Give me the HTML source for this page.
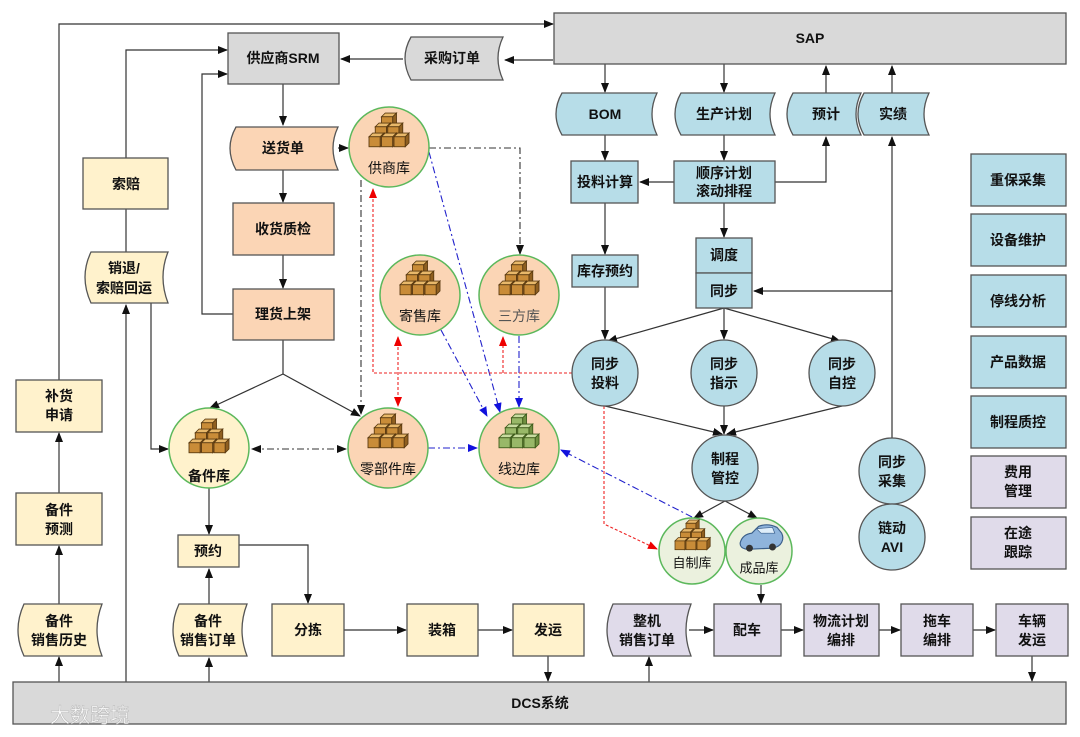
<!DOCTYPE html>
<html><head><meta charset="utf-8"><style>
html,body{margin:0;padding:0;background:#fff}
svg{display:block}
text{font-family:"Liberation Sans","Noto Sans CJK SC",sans-serif;font-size:14px;font-weight:bold;fill:#111;text-anchor:middle;dominant-baseline:central}
.n{font-weight:normal}
</style></head><body>
<svg width="1080" height="737" viewBox="0 0 1080 737" xmlns="http://www.w3.org/2000/svg">
<defs>
<marker id="a" markerUnits="userSpaceOnUse" markerWidth="10" markerHeight="10" refX="9" refY="5" orient="auto"><path d="M0,1 L10,5 L0,9 Z" fill="#111"/></marker>
<marker id="r" markerUnits="userSpaceOnUse" markerWidth="10" markerHeight="10" refX="9" refY="5" orient="auto"><path d="M0,1 L10,5 L0,9 Z" fill="#e00"/></marker>
<marker id="rs" markerUnits="userSpaceOnUse" markerWidth="10" markerHeight="10" refX="1" refY="5" orient="auto"><path d="M10,1 L0,5 L10,9 Z" fill="#e00"/></marker>
<marker id="b" markerUnits="userSpaceOnUse" markerWidth="10" markerHeight="10" refX="9" refY="5" orient="auto"><path d="M0,1 L10,5 L0,9 Z" fill="#11d"/></marker>
<marker id="as" markerUnits="userSpaceOnUse" markerWidth="10" markerHeight="10" refX="1" refY="5" orient="auto"><path d="M10,1 L0,5 L10,9 Z" fill="#111"/></marker>
<g id="cube"><path d="M0,3 L3,0 L12,0 L9,3 Z" fill="#e8b86a" stroke="#5a3a10" stroke-width="0.7"/><rect x="0" y="3" width="9" height="8" fill="#c98c38" stroke="#5a3a10" stroke-width="0.7"/><path d="M9,3 L12,0 L12,8 L9,11 Z" fill="#8f5f20" stroke="#5a3a10" stroke-width="0.7"/></g>
<g id="pyr"><use href="#cube" x="10" y="0"/><use href="#cube" x="5" y="8"/><use href="#cube" x="15" y="8"/><use href="#cube" x="0" y="16"/><use href="#cube" x="10" y="16"/><use href="#cube" x="20" y="16"/></g>
<g id="gcube"><path d="M0,3 L3,0 L12,0 L9,3 Z" fill="#c8dca0" stroke="#3d5a1a" stroke-width="0.7"/><rect x="0" y="3" width="9" height="8" fill="#98b868" stroke="#3d5a1a" stroke-width="0.7"/><path d="M9,3 L12,0 L12,8 L9,11 Z" fill="#6f8f40" stroke="#3d5a1a" stroke-width="0.7"/></g>
<g id="gpyr"><use href="#gcube" x="10" y="0"/><use href="#gcube" x="5" y="8"/><use href="#gcube" x="15" y="8"/><use href="#gcube" x="0" y="16"/><use href="#gcube" x="10" y="16"/><use href="#gcube" x="20" y="16"/></g>
</defs>

<g stroke="#333" stroke-width="1.2" fill="none">
<polyline points="59,380 59,24 553,24" marker-end="url(#a)"/>
<polyline points="553,60 505,60" marker-end="url(#a)"/>
<polyline points="403,59 341,59" marker-end="url(#a)"/>
<polyline points="126,158 126,50 227,50" marker-end="url(#a)"/>
<polyline points="233,314 202,314 202,74 227,74" marker-end="url(#a)"/>
<line x1="283" y1="84" x2="283" y2="125" marker-end="url(#a)"/>
<line x1="338" y1="148" x2="348" y2="148" marker-end="url(#a)"/>
<line x1="283" y1="170" x2="283" y2="202" marker-end="url(#a)"/>
<line x1="283" y1="255" x2="283" y2="288" marker-end="url(#a)"/>
<polyline points="283,340 283,374"/>
<line x1="283" y1="374" x2="210" y2="408" marker-end="url(#a)"/>
<line x1="283" y1="374" x2="360" y2="416" marker-end="url(#a)"/>
<line x1="126" y1="209" x2="126" y2="252"/>
<line x1="126" y1="682" x2="126" y2="305" marker-end="url(#a)"/>
<polyline points="151,303 151,449 168,449" marker-end="url(#a)"/>
<line x1="59" y1="682" x2="59" y2="657" marker-end="url(#a)"/>
<line x1="59" y1="604" x2="59" y2="546" marker-end="url(#a)"/>
<line x1="59" y1="493" x2="59" y2="433" marker-end="url(#a)"/>
<line x1="209" y1="488" x2="209" y2="534" marker-end="url(#a)"/>
<line x1="209" y1="604" x2="209" y2="569" marker-end="url(#a)"/>
<line x1="209" y1="682" x2="209" y2="658" marker-end="url(#a)"/>
<polyline points="239,545 308,545 308,603" marker-end="url(#a)"/>
<line x1="344" y1="630" x2="406" y2="630" marker-end="url(#a)"/>
<line x1="478" y1="630" x2="512" y2="630" marker-end="url(#a)"/>
<line x1="548" y1="656" x2="548" y2="681" marker-end="url(#a)"/>
<line x1="649" y1="682" x2="649" y2="657" marker-end="url(#a)"/>
<line x1="689" y1="630" x2="713" y2="630" marker-end="url(#a)"/>
<line x1="781" y1="630" x2="803" y2="630" marker-end="url(#a)"/>
<line x1="879" y1="630" x2="900" y2="630" marker-end="url(#a)"/>
<line x1="973" y1="630" x2="995" y2="630" marker-end="url(#a)"/>
<line x1="1032" y1="656" x2="1032" y2="681" marker-end="url(#a)"/>
<line x1="761" y1="585" x2="761" y2="603" marker-end="url(#a)"/>
<line x1="605" y1="64" x2="605" y2="92" marker-end="url(#a)"/>
<line x1="724" y1="64" x2="724" y2="92" marker-end="url(#a)"/>
<line x1="826" y1="93" x2="826" y2="66" marker-end="url(#a)"/>
<line x1="892" y1="93" x2="892" y2="66" marker-end="url(#a)"/>
<line x1="605" y1="135" x2="605" y2="160" marker-end="url(#a)"/>
<line x1="724" y1="135" x2="724" y2="160" marker-end="url(#a)"/>
<line x1="674" y1="182" x2="640" y2="182" marker-end="url(#a)"/>
<polyline points="775,182 826,182 826,137" marker-end="url(#a)"/>
<line x1="605" y1="203" x2="605" y2="254" marker-end="url(#a)"/>
<line x1="724" y1="203" x2="724" y2="237" marker-end="url(#a)"/>
<line x1="605" y1="287" x2="605" y2="339" marker-end="url(#a)"/>
<polyline points="892,438 892,137" marker-end="url(#a)"/>
<line x1="892" y1="291" x2="754" y2="291" marker-end="url(#a)"/>
<line x1="724" y1="308" x2="608" y2="341" marker-end="url(#a)"/>
<line x1="724" y1="308" x2="724" y2="339" marker-end="url(#a)"/>
<line x1="724" y1="308" x2="840" y2="341" marker-end="url(#a)"/>
<line x1="605" y1="406" x2="722" y2="434" marker-end="url(#a)"/>
<line x1="724" y1="406" x2="724" y2="434" marker-end="url(#a)"/>
<line x1="842" y1="406" x2="727" y2="434" marker-end="url(#a)"/>
<line x1="725" y1="501" x2="694" y2="518" marker-end="url(#a)"/>
<line x1="725" y1="501" x2="757" y2="518" marker-end="url(#a)"/>
</g>

<g fill="none" stroke-width="1.1">
<polyline points="429,148 520,148 520,254" stroke="#333" stroke-dasharray="7,3,2,3" marker-end="url(#a)"/>
<line x1="361" y1="180" x2="361" y2="414" stroke="#333" stroke-dasharray="7,3,2,3" marker-end="url(#a)"/>
<line x1="252" y1="449" x2="346" y2="449" stroke="#333" stroke-dasharray="7,3,2,3" marker-start="url(#as)" marker-end="url(#a)"/>
<line x1="429" y1="152" x2="500" y2="412" stroke="#22c" stroke-dasharray="7,3,2,3" marker-end="url(#b)"/>
<line x1="441" y1="330" x2="487" y2="416" stroke="#22c" stroke-dasharray="7,3,2,3" marker-end="url(#b)"/>
<line x1="519" y1="336" x2="519" y2="407" stroke="#22c" stroke-dasharray="7,3,2,3" marker-end="url(#b)"/>
<line x1="428" y1="448" x2="477" y2="448" stroke="#22c" stroke-dasharray="7,3,2,3" marker-end="url(#b)"/>
<line x1="692" y1="517" x2="561" y2="450" stroke="#22c" stroke-dasharray="7,3,2,3" marker-end="url(#b)"/>
<polyline points="572,373 373,373 373,189" stroke="#e22" stroke-dasharray="3,2" marker-end="url(#r)"/>
<line x1="398" y1="337" x2="398" y2="406" stroke="#e22" stroke-dasharray="3,2" marker-start="url(#rs)" marker-end="url(#r)"/>
<line x1="503" y1="373" x2="503" y2="337" stroke="#e22" stroke-dasharray="3,2" marker-end="url(#r)"/>
<polyline points="604,406 604,524 657,549" stroke="#e22" stroke-dasharray="3,2" marker-end="url(#r)"/>
</g>

<g stroke="#555" stroke-width="1.3">
<rect x="554" y="13" width="512" height="51" fill="#d9d9d9"/>
<rect x="228" y="33" width="111" height="51" fill="#d9d9d9"/>
<path d="M411,37 L503,37 Q493,58 503,80 L411,80 Q399,58 411,37 Z" fill="#d9d9d9"/>
<rect x="13" y="682" width="1053" height="42" fill="#d9d9d9"/>
<path d="M236,127 L338,127 Q328,148 338,170 L236,170 Q224,148 236,127 Z" fill="#fbd5b5"/>
<rect x="233" y="203" width="101" height="52" fill="#fbd5b5"/>
<rect x="233" y="289" width="101" height="51" fill="#fbd5b5"/>
<rect x="83" y="158" width="85" height="51" fill="#fff2cc"/>
<path d="M91,252 L168,252 Q158,277 168,303 L91,303 Q79,277 91,252 Z" fill="#fff2cc"/>
<rect x="16" y="380" width="86" height="52" fill="#fff2cc"/>
<rect x="16" y="493" width="86" height="52" fill="#fff2cc"/>
<path d="M24,604 L102,604 Q92,630 102,656 L24,656 Q12,630 24,604 Z" fill="#fff2cc"/>
<rect x="178" y="535" width="61" height="32" fill="#fff2cc"/>
<path d="M179,604 L247,604 Q237,630 247,656 L179,656 Q167,630 179,604 Z" fill="#fff2cc"/>
<rect x="272" y="604" width="72" height="52" fill="#fff2cc"/>
<rect x="407" y="604" width="71" height="52" fill="#fff2cc"/>
<rect x="513" y="604" width="71" height="52" fill="#fff2cc"/>
<path d="M613,604 L691,604 Q681,630 691,656 L613,656 Q601,630 613,604 Z" fill="#e0dbea"/>
<rect x="714" y="604" width="67" height="52" fill="#e0dbea"/>
<rect x="804" y="604" width="75" height="52" fill="#e0dbea"/>
<rect x="901" y="604" width="72" height="52" fill="#e0dbea"/>
<rect x="996" y="604" width="72" height="52" fill="#e0dbea"/>
<rect x="971" y="456" width="95" height="52" fill="#e0dbea"/>
<rect x="971" y="517" width="95" height="52" fill="#e0dbea"/>
<path d="M562,93 L657,93 Q647,114 657,135 L562,135 Q550,114 562,93 Z" fill="#b7dde8"/>
<path d="M681,93 L775,93 Q765,114 775,135 L681,135 Q669,114 681,93 Z" fill="#b7dde8"/>
<path d="M793,93 L861,93 Q851,114 861,135 L793,135 Q781,114 793,93 Z" fill="#b7dde8"/>
<path d="M864,93 L929,93 Q919,114 929,135 L864,135 Q852,114 864,93 Z" fill="#b7dde8"/>
<rect x="571" y="161" width="67" height="42" fill="#b7dde8"/>
<rect x="674" y="161" width="101" height="42" fill="#b7dde8"/>
<rect x="572" y="255" width="66" height="32" fill="#b7dde8"/>
<rect x="696" y="238" width="56" height="35" fill="#b7dde8"/>
<rect x="696" y="273" width="56" height="35" fill="#b7dde8"/>
<rect x="971" y="154" width="95" height="52" fill="#b7dde8"/>
<rect x="971" y="214" width="95" height="52" fill="#b7dde8"/>
<rect x="971" y="275" width="95" height="52" fill="#b7dde8"/>
<rect x="971" y="336" width="95" height="52" fill="#b7dde8"/>
<rect x="971" y="396" width="95" height="52" fill="#b7dde8"/>
<circle cx="605" cy="373" r="33" fill="#b7dde8"/>
<circle cx="724" cy="373" r="33" fill="#b7dde8"/>
<circle cx="842" cy="373" r="33" fill="#b7dde8"/>
<circle cx="725" cy="468" r="33" fill="#b7dde8"/>
<circle cx="892" cy="471" r="33" fill="#b7dde8"/>
<circle cx="892" cy="537" r="33" fill="#b7dde8"/>
</g>
<g stroke="#5cb85c" stroke-width="1.5">
<circle cx="389" cy="147" r="40" fill="#fbd5b5"/>
<circle cx="420" cy="295" r="40" fill="#fbd5b5"/>
<circle cx="519" cy="295" r="40" fill="#fbd5b5"/>
<circle cx="388" cy="448" r="40" fill="#fbd5b5"/>
<circle cx="519" cy="448" r="40" fill="#fbd5b5"/>
<circle cx="209" cy="448" r="40" fill="#fff2cc"/>
<circle cx="692" cy="551" r="33" fill="#ebf1de"/>
<circle cx="759" cy="551" r="33" fill="#ebf1de"/>
</g>
<use href="#pyr" transform="translate(369,113) scale(1.25)"/>
<use href="#pyr" transform="translate(400,261) scale(1.25)"/>
<use href="#pyr" transform="translate(499,261) scale(1.25)"/>
<use href="#pyr" transform="translate(368,414) scale(1.25)"/>
<use href="#gpyr" transform="translate(499,414) scale(1.25)"/>
<use href="#pyr" transform="translate(189,419) scale(1.25)"/>
<use href="#pyr" transform="translate(675,520) scale(1.1)"/>
<g transform="translate(738,524) scale(1.15)">
<path d="M2,16 Q4,9 12,8 L18,2 Q26,-1 34,3 L38,8 Q40,12 38,16 Q36,20 30,21 L8,22 Q1,21 2,16 Z" fill="#8fb4dc" stroke="#3a5e8a" stroke-width="1"/>
<path d="M16,4 L20,8 L32,8 L30,3 Z" fill="#dfeefa" stroke="#3a5e8a" stroke-width="0.6"/>
<circle cx="10" cy="21" r="3" fill="#333"/><circle cx="30" cy="20" r="3" fill="#333"/>
</g>

<text x="810" y="38">SAP</text>
<text x="283" y="58">供应商SRM</text>
<text x="452" y="58">采购订单</text>
<text x="283" y="148">送货单</text>
<text x="283" y="229">收货质检</text>
<text x="283" y="314">理货上架</text>
<text x="126" y="184">索赔</text>
<text x="124" y="268">销退/</text>
<text x="124" y="288">索赔回运</text>
<text x="59" y="396">补货</text><text x="59" y="415">申请</text>
<text x="59" y="510">备件</text><text x="59" y="529">预测</text>
<text x="59" y="621">备件</text><text x="59" y="640">销售历史</text>
<text x="208" y="551">预约</text>
<text x="208" y="621">备件</text><text x="208" y="640">销售订单</text>
<text x="308" y="630">分拣</text>
<text x="442" y="630">装箱</text>
<text x="548" y="630">发运</text>
<text x="540" y="703">DCS系统</text>
<text x="647" y="621">整机</text><text x="647" y="640">销售订单</text>
<text x="747" y="630">配车</text>
<text x="841" y="621">物流计划</text><text x="841" y="640">编排</text>
<text x="937" y="621">拖车</text><text x="937" y="640">编排</text>
<text x="1032" y="621">车辆</text><text x="1032" y="640">发运</text>
<text x="605" y="114">BOM</text>
<text x="724" y="114">生产计划</text>
<text x="826" y="114">预计</text>
<text x="893" y="114">实绩</text>
<text x="605" y="182">投料计算</text>
<text x="724" y="173">顺序计划</text><text x="724" y="191">滚动排程</text>
<text x="605" y="271">库存预约</text>
<text x="724" y="255">调度</text>
<text x="724" y="291">同步</text>
<text x="605" y="364">同步</text><text x="605" y="383">投料</text>
<text x="724" y="364">同步</text><text x="724" y="383">指示</text>
<text x="842" y="364">同步</text><text x="842" y="383">自控</text>
<text x="725" y="459">制程</text><text x="725" y="478">管控</text>
<text x="892" y="462">同步</text><text x="892" y="481">采集</text>
<text x="892" y="528">链动</text><text x="892" y="547">AVI</text>
<text x="1018" y="180">重保采集</text>
<text x="1018" y="240">设备维护</text>
<text x="1018" y="301">停线分析</text>
<text x="1018" y="362">产品数据</text>
<text x="1018" y="422">制程质控</text>
<text x="1018" y="472">费用</text><text x="1018" y="491">管理</text>
<text x="1018" y="533">在途</text><text x="1018" y="552">跟踪</text>
<text x="389" y="168" class="n">供商库</text>
<text x="420" y="316" class="n">寄售库</text>
<text x="519" y="316" class="n" style="fill:#555">三方库</text>
<text x="388" y="469" class="n">零部件库</text>
<text x="519" y="469" class="n">线边库</text>
<text x="209" y="476">备件库</text>
<text x="692" y="563" class="n" style="font-size:13px">自制库</text>
<text x="759" y="568" class="n" style="font-size:13px">成品库</text>
<text x="90" y="716" class="n" style="font-size:20px;fill:#fff;stroke:#bbb;stroke-width:0.6">大数跨境</text>
</svg>
</body></html>
